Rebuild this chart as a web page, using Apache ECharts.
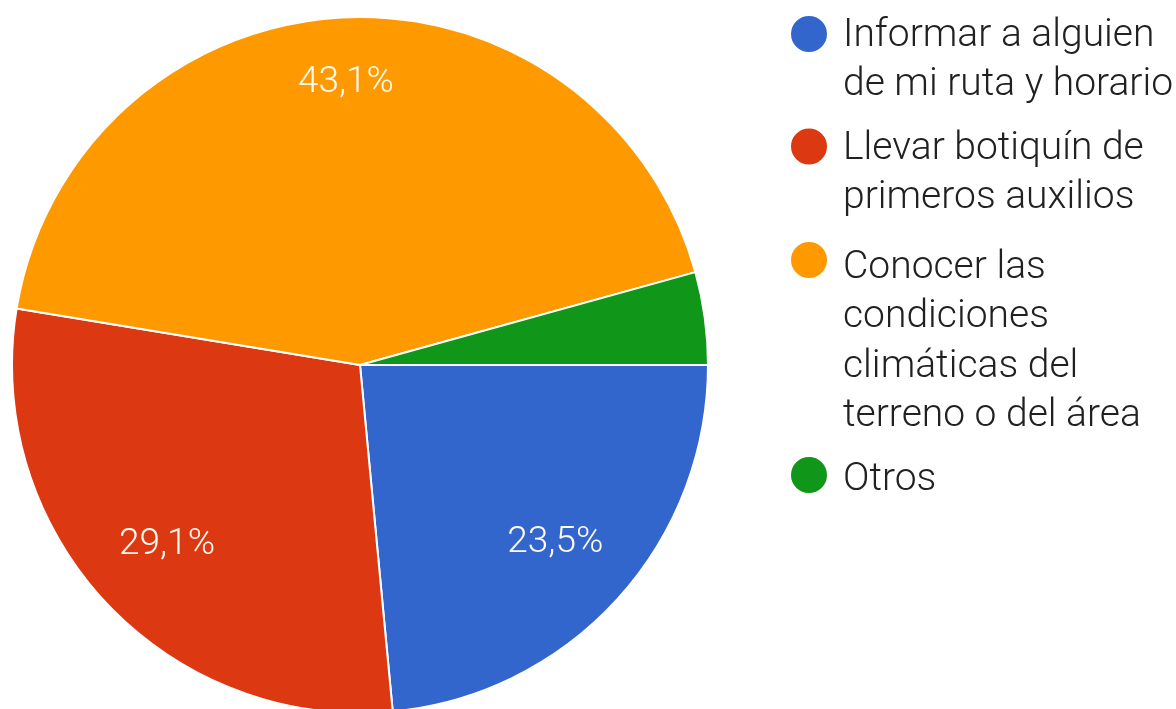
<!DOCTYPE html>
<html>
<head>
<meta charset="utf-8">
<script src="https://cdn.jsdelivr.net/npm/echarts@6/dist/echarts.min.js"></script>
<style>
  html, body { margin: 0; padding: 0; background: #ffffff; }
  #chart { width: 1176px; height: 709px; }
</style>
</head>
<body>
<div id="chart"></div>
<script>
// ---- data ----
const categories = [
  'Informar a alguien\nde mi ruta y horario',
  'Llevar botiquín de\nprimeros auxilios',
  'Conocer las\ncondiciones\nclimáticas del\nterreno o del área',
  'Otros'
];
const values = [23.5, 29.1, 43.1, 4.3];
const colors = ['#3366cc', '#dc3912', '#ff9900', '#109618'];

// ---- layout ----
const CX = 360, CY = 365, R = 348;
const LINE = 49.5;
const FONT = 'Roboto, "Noto Sans", sans-serif';
const iconCenters = [34, 146.5, 260, 475];   // legend icon centres (px)
const textShift = [2, 2.5, 8, 5];            // first text line below icon centre (px)

const pieData = categories.map((c, i) => ({ name: c, value: values[i], itemStyle: { color: colors[i] } }));

const legends = categories.map((c, i) => {
  const n = c.split('\n').length;
  const P = (n - 1) * LINE + 2 * textShift[i];
  return {
    orient: 'vertical',
    left: 789,
    top: iconCenters[i] - (P + n * LINE) / 2,
    padding: 0,
    itemWidth: 58,
    itemHeight: 38,
    icon: 'circle',
    selectedMode: false,
    data: [c],
    formatter: name => '{p| }\n' + name,
    textStyle: {
      fontFamily: FONT,
      fontSize: 39,
      fontWeight: 300,
      lineHeight: LINE,
      color: '#212121',
      rich: {
        p: { fontSize: 1, lineHeight: P, height: P }
      }
    }
  };
});

const chart = echarts.init(document.getElementById('chart'), null, { renderer: 'canvas' });
chart.setOption({
  animation: false,
  backgroundColor: '#ffffff',
  legend: legends,
  series: [
    {
      type: 'pie',
      center: [CX, CY],
      radius: [0, R],
      startAngle: 0,
      clockwise: true,
      label: { show: false },
      labelLine: { show: false },
      itemStyle: { borderColor: '#ffffff', borderWidth: 2 },
      emphasis: { disabled: true },
      data: pieData
    },
    {
      type: 'pie',
      center: [CX, CY],
      radius: [R * 0.5, R],
      startAngle: 0,
      clockwise: true,
      silent: true,
      itemStyle: { color: 'rgba(0,0,0,0)', borderWidth: 0 },
      emphasis: { disabled: true },
      labelLine: { show: false },
      label: {
        show: true,
        position: 'inside',
        fontFamily: FONT,
        fontSize: 37,
        fontWeight: 300,
        lineHeight: 38,
        color: '#fffaf0',
        formatter: p => p.percent < 5 ? '' :
          p.percent.toFixed(1).replace('.', ',') + '%' + (p.dataIndex === 2 ? '\n' : '')
      },
      data: categories.map((c, i) => ({ name: c, value: values[i] }))
    }
  ]
});
</script>
</body>
</html>
